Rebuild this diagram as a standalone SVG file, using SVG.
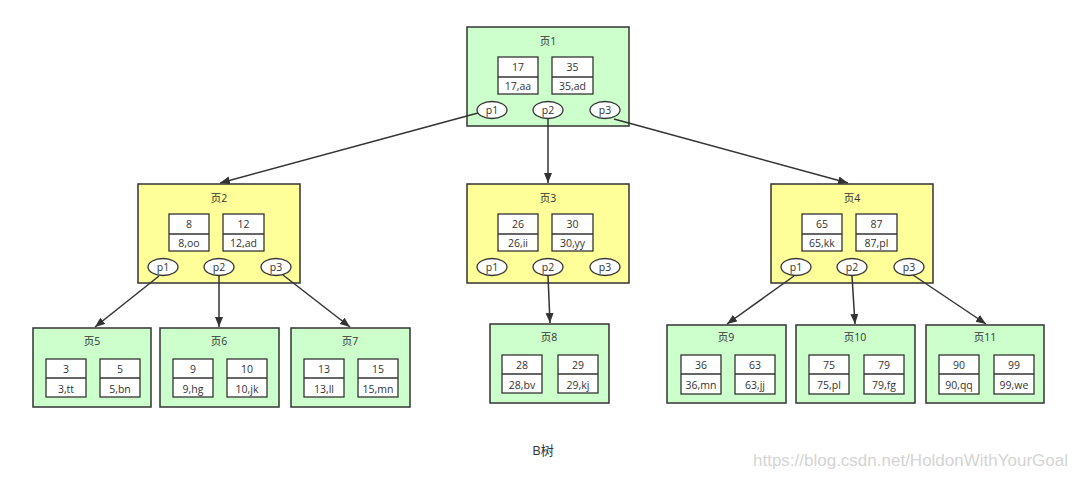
<svg xmlns="http://www.w3.org/2000/svg" width="1080" height="480" viewBox="0 0 1080 480">
<defs>
<style>
text{font-family:"Open Sans","Noto Sans CJK SC",sans-serif;font-size:10.5px;fill:#333;text-anchor:middle}
.g{fill:#ccffcc;stroke:#333;stroke-width:1.5}
.y{fill:#ffff99;stroke:#333;stroke-width:1.5}
.k{fill:#fff;stroke:#333;stroke-width:1.3}
.d{stroke:#333;stroke-width:1.3}
.e{fill:#fff;stroke:#333;stroke-width:1.3}
.c{fill:none;stroke:#333;stroke-width:1.5;marker-end:url(#ah)}
.cap{font-size:13px;fill:#333}
.wm{font-family:"Liberation Sans",sans-serif;font-size:17px;fill:#d4d4d4;text-anchor:end}
</style>
<marker id="ah" markerUnits="userSpaceOnUse" markerWidth="11" markerHeight="9" refX="10" refY="4" orient="auto">
<path d="M0,0 L10,4 L0,8 z" fill="#333"/>
</marker>
</defs>
<rect width="1080" height="480" fill="#fff"/>

<g id="page1" transform="translate(467,27)">
<rect class="g" x="0" y="0" width="162" height="99"/>
<text x="81" y="18">页1</text>
<rect class="k" x="31" y="30" width="40" height="37"/><line class="d" x1="31" y1="50" x2="71" y2="50"/>
<text x="51" y="44">17</text><text x="51" y="63">17,aa</text>
<rect class="k" x="85" y="30" width="41" height="37"/><line class="d" x1="85" y1="50" x2="126" y2="50"/>
<text x="105.5" y="44">35</text><text x="105.5" y="63">35,ad</text>
<ellipse class="e" cx="25" cy="83" rx="15" ry="8.5"/><text x="25" y="87">p1</text>
<ellipse class="e" cx="81" cy="83" rx="15" ry="8.5"/><text x="81" y="87">p2</text>
<ellipse class="e" cx="138" cy="83" rx="15" ry="8.5"/><text x="138" y="87">p3</text>
</g>

<g id="page2" transform="translate(138,184)">
<rect class="y" x="0" y="0" width="162" height="99"/>
<text x="81" y="18">页2</text>
<rect class="k" x="31" y="30" width="40" height="37"/><line class="d" x1="31" y1="50" x2="71" y2="50"/>
<text x="51" y="44">8</text><text x="51" y="63">8,oo</text>
<rect class="k" x="85" y="30" width="41" height="37"/><line class="d" x1="85" y1="50" x2="126" y2="50"/>
<text x="105.5" y="44">12</text><text x="105.5" y="63">12,ad</text>
<ellipse class="e" cx="25" cy="83" rx="15" ry="8.5"/><text x="25" y="87">p1</text>
<ellipse class="e" cx="81" cy="83" rx="15" ry="8.5"/><text x="81" y="87">p2</text>
<ellipse class="e" cx="138" cy="83" rx="15" ry="8.5"/><text x="138" y="87">p3</text>
</g>

<g id="page3" transform="translate(467,184)">
<rect class="y" x="0" y="0" width="162" height="99"/>
<text x="81" y="18">页3</text>
<rect class="k" x="31" y="30" width="40" height="37"/><line class="d" x1="31" y1="50" x2="71" y2="50"/>
<text x="51" y="44">26</text><text x="51" y="63">26,ii</text>
<rect class="k" x="85" y="30" width="41" height="37"/><line class="d" x1="85" y1="50" x2="126" y2="50"/>
<text x="105.5" y="44">30</text><text x="105.5" y="63">30,yy</text>
<ellipse class="e" cx="25" cy="83" rx="15" ry="8.5"/><text x="25" y="87">p1</text>
<ellipse class="e" cx="81" cy="83" rx="15" ry="8.5"/><text x="81" y="87">p2</text>
<ellipse class="e" cx="138" cy="83" rx="15" ry="8.5"/><text x="138" y="87">p3</text>
</g>

<g id="page4" transform="translate(771,184)">
<rect class="y" x="0" y="0" width="162" height="99"/>
<text x="81" y="18">页4</text>
<rect class="k" x="31" y="30" width="40" height="37"/><line class="d" x1="31" y1="50" x2="71" y2="50"/>
<text x="51" y="44">65</text><text x="51" y="63">65,kk</text>
<rect class="k" x="85" y="30" width="41" height="37"/><line class="d" x1="85" y1="50" x2="126" y2="50"/>
<text x="105.5" y="44">87</text><text x="105.5" y="63">87,pl</text>
<ellipse class="e" cx="25" cy="83" rx="15" ry="8.5"/><text x="25" y="87">p1</text>
<ellipse class="e" cx="81" cy="83" rx="15" ry="8.5"/><text x="81" y="87">p2</text>
<ellipse class="e" cx="138" cy="83" rx="15" ry="8.5"/><text x="138" y="87">p3</text>
</g>

<g id="page5" transform="translate(33,328)">
<rect class="g" x="0" y="0" width="118" height="79"/>
<text x="59" y="17">页5</text>
<rect class="k" x="13" y="31" width="40" height="38"/><line class="d" x1="13" y1="50" x2="53" y2="50"/>
<text x="33" y="45">3</text><text x="33" y="65">3,tt</text>
<rect class="k" x="67" y="31" width="40" height="38"/><line class="d" x1="67" y1="50" x2="107" y2="50"/>
<text x="87" y="45">5</text><text x="87" y="65">5,bn</text>
</g>

<g id="page6" transform="translate(160,328)">
<rect class="g" x="0" y="0" width="119" height="79"/>
<text x="59" y="17">页6</text>
<rect class="k" x="13" y="31" width="40" height="38"/><line class="d" x1="13" y1="50" x2="53" y2="50"/>
<text x="33" y="45">9</text><text x="33" y="65">9,hg</text>
<rect class="k" x="67" y="31" width="40" height="38"/><line class="d" x1="67" y1="50" x2="107" y2="50"/>
<text x="87" y="45">10</text><text x="87" y="65">10,jk</text>
</g>

<g id="page7" transform="translate(291,328)">
<rect class="g" x="0" y="0" width="119" height="79"/>
<text x="59" y="17">页7</text>
<rect class="k" x="13" y="31" width="40" height="38"/><line class="d" x1="13" y1="50" x2="53" y2="50"/>
<text x="33" y="45">13</text><text x="33" y="65">13,ll</text>
<rect class="k" x="67" y="31" width="40" height="38"/><line class="d" x1="67" y1="50" x2="107" y2="50"/>
<text x="87" y="45">15</text><text x="87" y="65">15,mn</text>
</g>

<g id="page8" transform="translate(490,324)">
<rect class="g" x="0" y="0" width="119" height="79"/>
<text x="59" y="17">页8</text>
<rect class="k" x="12" y="31" width="40" height="38"/><line class="d" x1="12" y1="50" x2="52" y2="50"/>
<text x="32" y="45">28</text><text x="32" y="65">28,bv</text>
<rect class="k" x="68" y="31" width="40" height="38"/><line class="d" x1="68" y1="50" x2="108" y2="50"/>
<text x="88" y="45">29</text><text x="88" y="65">29,kj</text>
</g>

<g id="page9" transform="translate(667,325)">
<rect class="g" x="0" y="0" width="119" height="78"/>
<text x="59" y="16">页9</text>
<rect class="k" x="14" y="30" width="40" height="39"/><line class="d" x1="14" y1="49" x2="54" y2="49"/>
<text x="34" y="44">36</text><text x="34" y="64">36,mn</text>
<rect class="k" x="68" y="30" width="40" height="39"/><line class="d" x1="68" y1="49" x2="108" y2="49"/>
<text x="88" y="44">63</text><text x="88" y="64">63,jj</text>
</g>

<g id="page10" transform="translate(796,325)">
<rect class="g" x="0" y="0" width="119" height="78"/>
<text x="59" y="16">页10</text>
<rect class="k" x="13" y="30" width="40" height="39"/><line class="d" x1="13" y1="49" x2="53" y2="49"/>
<text x="33" y="44">75</text><text x="33" y="64">75,pl</text>
<rect class="k" x="68" y="30" width="40" height="39"/><line class="d" x1="68" y1="49" x2="108" y2="49"/>
<text x="88" y="44">79</text><text x="88" y="64">79,fg</text>
</g>

<g id="page11" transform="translate(926,325)">
<rect class="g" x="0" y="0" width="118" height="78"/>
<text x="59" y="16">页11</text>
<rect class="k" x="13" y="30" width="40" height="39"/><line class="d" x1="13" y1="49" x2="53" y2="49"/>
<text x="33" y="44">90</text><text x="33" y="64">90,qq</text>
<rect class="k" x="68" y="30" width="40" height="39"/><line class="d" x1="68" y1="49" x2="108" y2="49"/>
<text x="88" y="44">99</text><text x="88" y="64">99,we</text>
</g>

<g id="connectors">
<line class="c" x1="478" y1="113" x2="220" y2="183"/>
<line class="c" x1="548" y1="119" x2="548" y2="183"/>
<line class="c" x1="614" y1="119" x2="848" y2="183"/>
<line class="c" x1="159" y1="276" x2="95" y2="327"/>
<line class="c" x1="219" y1="276" x2="219" y2="327"/>
<line class="c" x1="283" y1="275" x2="350" y2="327"/>
<line class="c" x1="548" y1="276" x2="550" y2="323"/>
<line class="c" x1="794" y1="276" x2="727" y2="324"/>
<line class="c" x1="852" y1="276" x2="855" y2="324"/>
<line class="c" x1="913" y1="275" x2="986" y2="324"/>
</g>

<text class="cap" x="543" y="455">B树</text>
<text class="wm" x="1068" y="466">https://blog.csdn.net/HoldonWithYourGoal</text>
</svg>
